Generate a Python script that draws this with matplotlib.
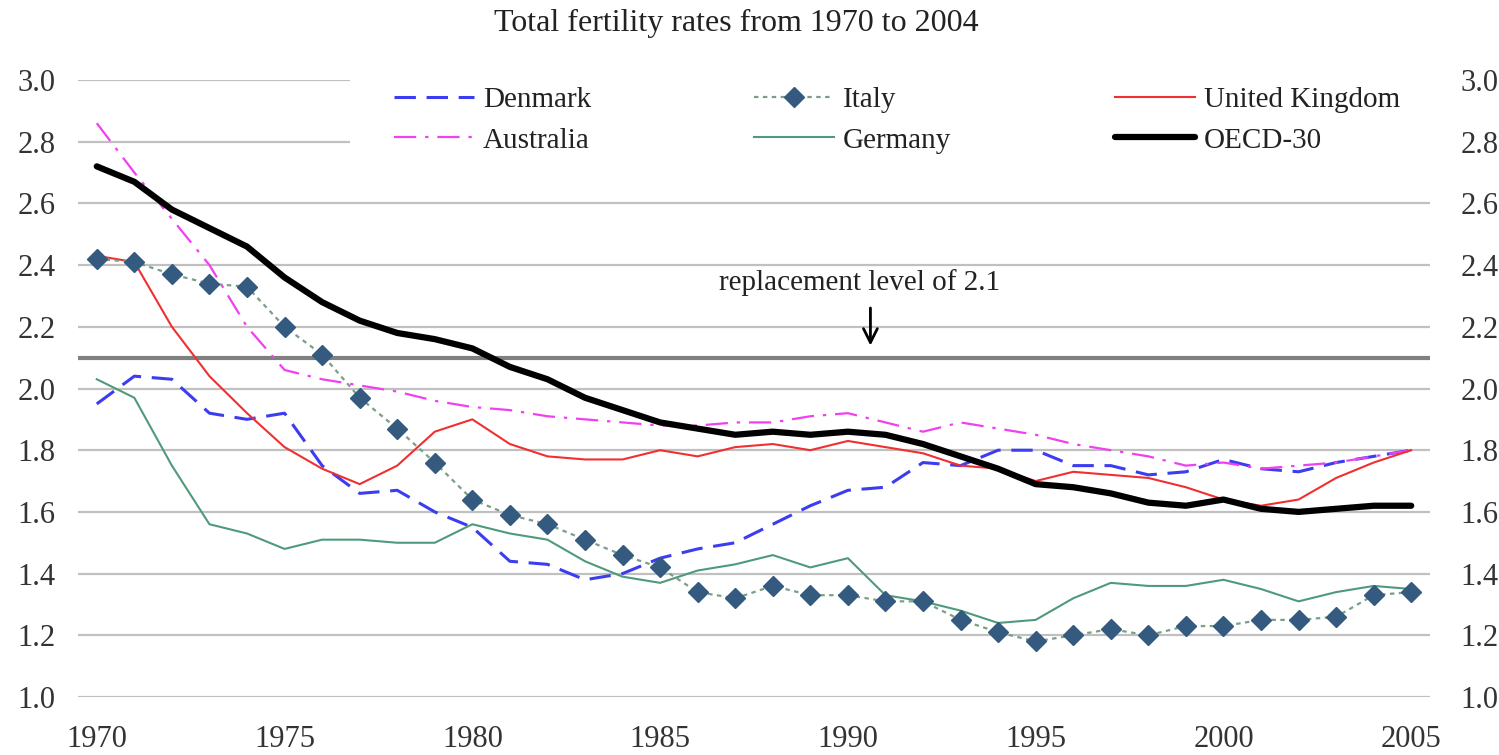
import matplotlib.pyplot as plt

plt.rcParams['font.family'] = ['Liberation Serif', 'DejaVu Serif']

years = list(range(1970, 2006))

denmark = [1.95, 2.04, 2.03, 1.92, 1.90, 1.92, 1.75, 1.66, 1.67, 1.60,
           1.55, 1.44, 1.43, 1.38, 1.40, 1.45, 1.48, 1.50, 1.56, 1.62,
           1.67, 1.68, 1.76, 1.75, 1.80, 1.80, 1.75, 1.75, 1.72, 1.73,
           1.77, 1.74, 1.73, 1.76, 1.78, 1.80]
australia = [2.86, 2.70, 2.55, 2.40, 2.20, 2.06, 2.03, 2.01, 1.99, 1.96,
             1.94, 1.93, 1.91, 1.90, 1.89, 1.88, 1.88, 1.89, 1.89, 1.91,
             1.92, 1.89, 1.86, 1.89, 1.87, 1.85, 1.82, 1.80, 1.78, 1.75,
             1.76, 1.74, 1.75, 1.76, 1.78, 1.80]
italy = [2.42, 2.41, 2.37, 2.34, 2.33, 2.20, 2.11, 1.97, 1.87, 1.76,
         1.64, 1.59, 1.56, 1.51, 1.46, 1.42, 1.34, 1.32, 1.36, 1.33,
         1.33, 1.31, 1.31, 1.25, 1.21, 1.18, 1.20, 1.22, 1.20, 1.23,
         1.23, 1.25, 1.25, 1.26, 1.33, 1.34]
germany = [2.03, 1.97, 1.75, 1.56, 1.53, 1.48, 1.51, 1.51, 1.50, 1.50,
           1.56, 1.53, 1.51, 1.44, 1.39, 1.37, 1.41, 1.43, 1.46, 1.42,
           1.45, 1.33, 1.31, 1.28, 1.24, 1.25, 1.32, 1.37, 1.36, 1.36,
           1.38, 1.35, 1.31, 1.34, 1.36, 1.35]
uk = [2.43, 2.41, 2.20, 2.04, 1.92, 1.81, 1.74, 1.69, 1.75, 1.86,
      1.90, 1.82, 1.78, 1.77, 1.77, 1.80, 1.78, 1.81, 1.82, 1.80,
      1.83, 1.81, 1.79, 1.75, 1.74, 1.70, 1.73, 1.72, 1.71, 1.68,
      1.64, 1.62, 1.64, 1.71, 1.76, 1.80]
oecd = [2.72, 2.67, 2.58, 2.52, 2.46, 2.36, 2.28, 2.22, 2.18, 2.16,
        2.13, 2.07, 2.03, 1.97, 1.93, 1.89, 1.87, 1.85, 1.86, 1.85,
        1.86, 1.85, 1.82, 1.78, 1.74, 1.69, 1.68, 1.66, 1.63, 1.62,
        1.64, 1.61, 1.60, 1.61, 1.62, 1.62]

replacement = 2.1
xtick_years = [1970, 1975, 1980, 1985, 1990, 1995, 2000, 2005]
yticks = [1.0, 1.2, 1.4, 1.6, 1.8, 2.0, 2.2, 2.4, 2.6, 2.8, 3.0]

W, H = 1499, 755
fig = plt.figure(figsize=(W / 100, H / 100), dpi=100)
ax = fig.add_axes([78 / W, 1 - 697 / H, (1430 - 78) / W, (697 - 80) / H])

# gridlines
for v in yticks:
    ax.axhline(v, color='#c0c0c0', lw=1.6, zorder=1)
ax.axhline(replacement, color='#808080', lw=3, zorder=1.5)

l_den, = ax.plot(years, denmark, color='#3c3cf0', lw=2.2, dashes=(7, 3.5), zorder=3)
l_aus, = ax.plot(years, australia, color='#f040f0', lw=1.6, dashes=(10, 4, 1.5, 4), zorder=3)
l_ita, = ax.plot(years, italy, color='#7a9e88', lw=1.6, ls=(0, (2, 2)), marker='D',
                 markersize=10.5, markerfacecolor='#345a80', markeredgecolor='#345a80', zorder=4)
l_ger, = ax.plot(years, germany, color='#4f9a7a', lw=1.5, zorder=3)
l_uk, = ax.plot(years, uk, color='#f03030', lw=1.5, zorder=3)
l_oecd, = ax.plot(years, oecd, color='black', lw=4.5, solid_joinstyle='round',
                  solid_capstyle='round', zorder=5)

ax.set_xlim(1969.5, 2005.5)
ax.set_ylim(1.0, 3.0)
ax.set_xticks(xtick_years)
ax.set_xticklabels([str(y) for y in xtick_years])
ax.set_yticks(yticks)
ax.set_yticklabels(['%.1f' % v for v in yticks])
ax.tick_params(axis='both', length=0, labelsize=22, colors='#333333')
ax.tick_params(axis='y', pad=16)
ax.tick_params(axis='x', pad=20)
for s in ax.spines.values():
    s.set_visible(False)

ax2 = ax.twinx()
ax2.set_ylim(1.0, 3.0)
ax2.set_yticks(yticks)
ax2.set_yticklabels(['%.1f' % v for v in yticks])
ax2.tick_params(axis='y', length=0, labelsize=22, colors='#333333', pad=22)
for s in ax2.spines.values():
    s.set_visible(False)

# replacement level note
ax.annotate('', xy=(1990.6, 2.13), xytext=(1990.6, 2.27),
            arrowprops=dict(arrowstyle='->', color='black', lw=2, mutation_scale=25))
ax.text(1990.3, 2.30, 'replacement level of 2.1', ha='center', va='bottom',
        fontsize=21, color='#222222')

handles = [l_den, l_aus, l_ita, l_ger, l_uk, l_oecd]
labels = ['Denmark', 'Australia', 'Italy', 'Germany', 'United Kingdom', 'OECD-30']
leg = ax.legend(handles, labels, ncol=3, loc='upper left',
                bbox_to_anchor=(350 / W, 1 - 43 / H), bbox_transform=fig.transFigure,
                fontsize=21, frameon=True, fancybox=False, borderpad=1.5,
                handlelength=2.75, handletextpad=0.3, columnspacing=5.6,
                labelspacing=0.48, borderaxespad=0)
leg.get_frame().set_facecolor('white')
leg.get_frame().set_edgecolor('none')
leg.get_frame().set_alpha(1)
leg.set_zorder(6)
for t in leg.get_texts():
    t.set_color('#222222')

fig.text(736 / W, 1 - 23 / H, 'Total fertility rates from 1970 to 2004',
         ha='center', va='center', fontsize=23, color='#222222')

fig.savefig('out.png', dpi=100, facecolor='white')
